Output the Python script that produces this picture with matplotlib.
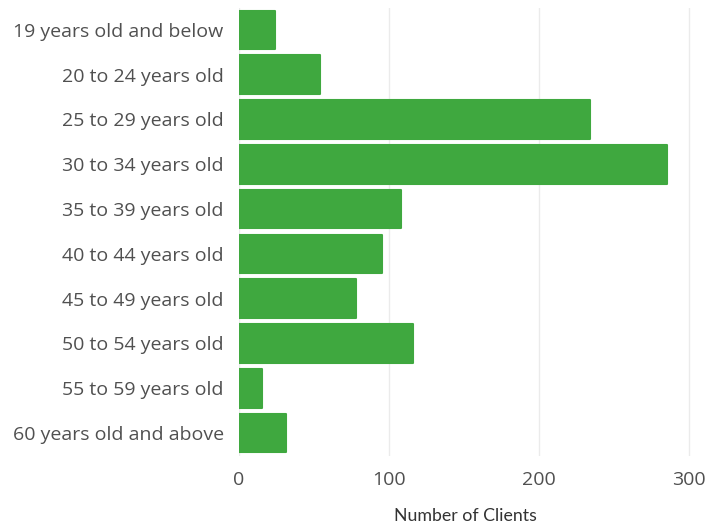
import matplotlib
matplotlib.use("Agg")
import matplotlib.pyplot as plt

categories = ["19 years old and below", "20 to 24 years old", "25 to 29 years old",
              "30 to 34 years old", "35 to 39 years old", "40 to 44 years old",
              "45 to 49 years old", "50 to 54 years old", "55 to 59 years old",
              "60 years old and above"]
clients = [24, 54, 234, 285, 108, 95, 78, 116, 15, 31]
xticks = [0, 100, 200, 300]

fig = plt.figure(figsize=(7.15, 5.25), dpi=100)
ax = fig.add_axes([239/715, 1 - 455.5/525, (691 - 239)/715, (455.5 - 7.5)/525])

green = "#3fa83f"
ypos = list(range(len(categories)))
ax.barh(ypos, clients, height=0.86, color=green, edgecolor=green, linewidth=1.5,
        joinstyle="round", zorder=3)
ax.set_ylim(len(categories) - 0.5, -0.5)
ax.set_xlim(0, 301.3)
ax.set_yticks(ypos)
ax.set_yticklabels(categories, fontfamily="Open Sans", fontsize=14, color="#505050")
ax.set_xticks(xticks)
ax.set_xticklabels([str(t) for t in xticks], fontfamily="Open Sans", fontsize=14, color="#505050")
ax.tick_params(axis="both", length=0)
ax.tick_params(axis="y", pad=11)
ax.tick_params(axis="x", pad=11)
ax.grid(axis="x", color="#ebebeb", linewidth=1, zorder=0)
for s in ax.spines.values():
    s.set_visible(False)
ax.set_xlabel("Number of Clients", fontfamily="Lato", fontsize=12.8, color="#333333", labelpad=14)

fig.savefig("out.png", dpi=100)
